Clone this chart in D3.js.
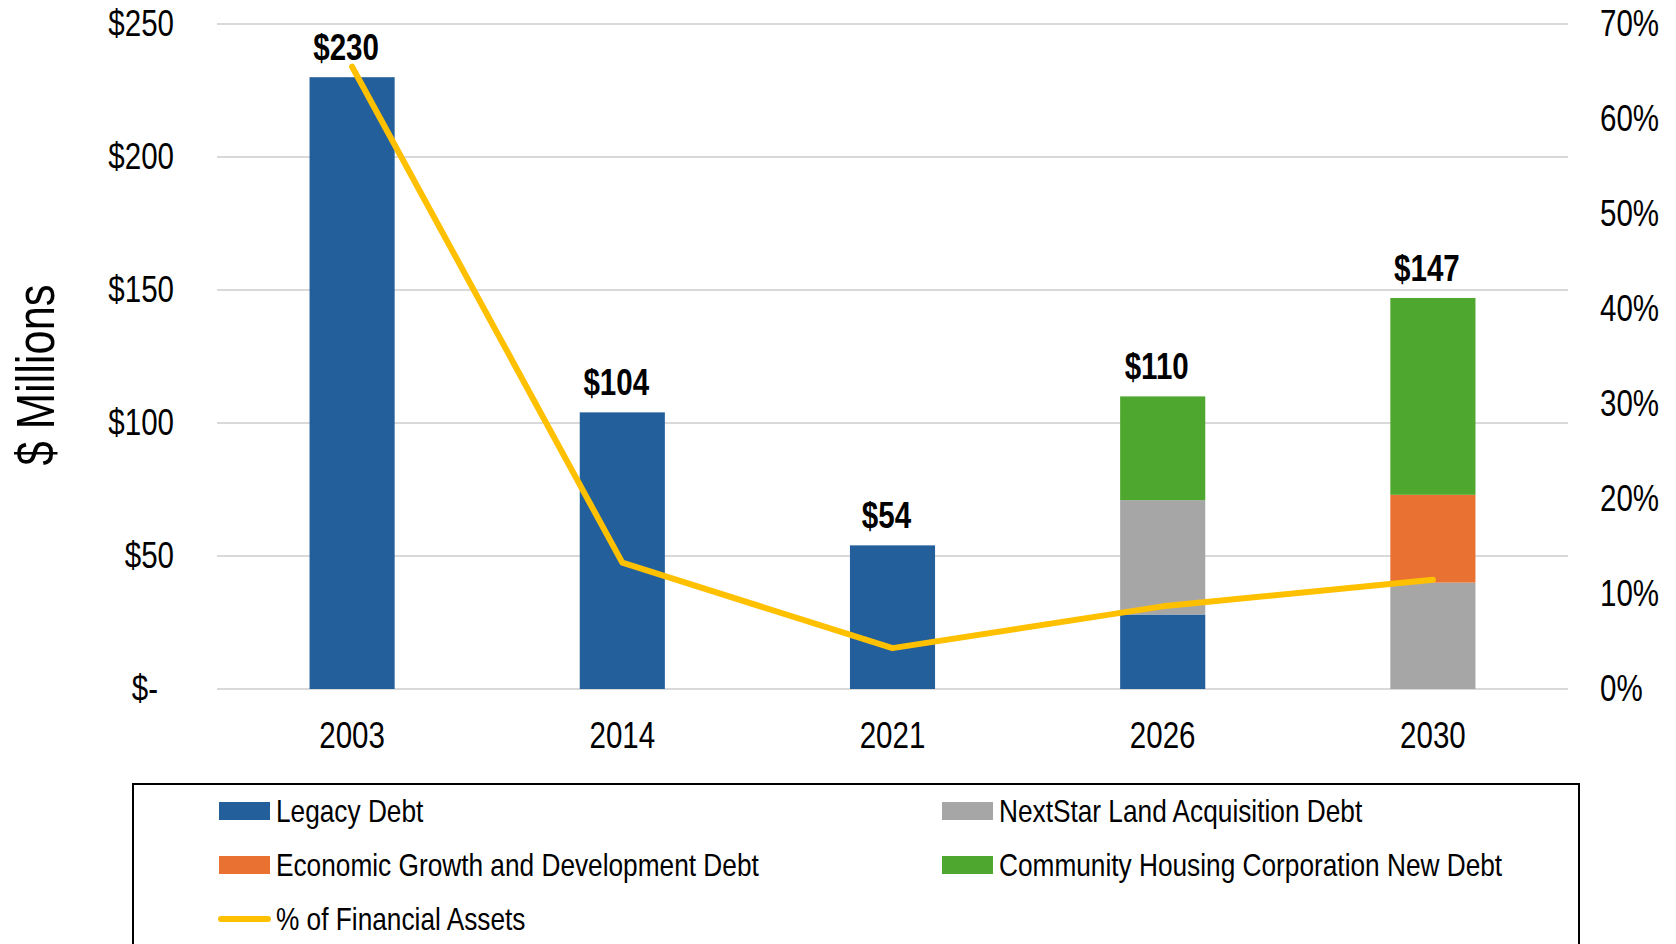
<!DOCTYPE html>
<html>
<head>
<meta charset="utf-8">
<script src="https://cdn.jsdelivr.net/npm/d3@7"></script>
<style>
    body { margin: 0; background: #fff; }
    svg text { font-family: "Liberation Sans", Arial, sans-serif; fill: #000; }
</style>
</head>
<body>
<div id="chart"></div>
<script>
//Datos del gráfico
const YEARS = ['2003', '2014', '2021', '2026', '2030'];
const LEGACY = [230, 104, 54, 28, 0];
const NEXTSTAR = [0, 0, 0, 43, 40];
const ECONOMIC = [0, 0, 0, 0, 33];
const COMMUNITY = [0, 0, 0, 39, 74];
const PCT_ASSETS = [65.5, 13.3, 4.3, 8.7, 11.5];
const LEFT_TICKS = [0, 50, 100, 150, 200, 250];
const RIGHT_TICKS = [0, 10, 20, 30, 40, 50, 60, 70];
const SERIES_NAMES = ['Legacy Debt', 'NextStar Land Acquisition Debt', 'Economic Growth and Development Debt', 'Community Housing Corporation New Debt'];
const LINE_NAME = '% of Financial Assets';

//Colores fijos
const COLOR_BLUE = '#235F9B',
COLOR_GREY = '#A6A6A6',
COLOR_ORANGE = '#E97132',
COLOR_GREEN = '#4EA72E',
COLOR_GOLD = '#FFC000',
COLOR_GRID = '#D9D9D9';

//Factor para imitar Arial Narrow (no hay fuente estrecha instalada)
const NARROW = 0.82;

let seriesKeys = ['legacy', 'nextstar', 'economic', 'community'];
let seriesColors = [COLOR_BLUE, COLOR_GREY, COLOR_ORANGE, COLOR_GREEN];

//Tabla para el stack
let data = YEARS.map(function(y, i) {
    return { year: y, legacy: LEGACY[i], nextstar: NEXTSTAR[i], economic: ECONOMIC[i], community: COMMUNITY[i], pct: PCT_ASSETS[i] };
});

function narrow(selection) {
    selection.each(function() {
        let len = this.getComputedTextLength();
        d3.select(this)
            .attr('textLength', len * NARROW)
            .attr('lengthAdjust', 'spacingAndGlyphs');
    });
}

let margin = {top: 24, right: 108, bottom: 255, left: 217},
    totalWidth = 1676, totalHeight = 944,
    width = totalWidth - margin.left - margin.right,
    height = totalHeight - margin.top - margin.bottom;

let svg = d3.select('#chart')
    .append('svg')
        .attr('width', totalWidth)
        .attr('height', totalHeight)
    .append('g')
        .attr('transform', 'translate(' + margin.left + ',' + margin.top + ')');

let x = d3.scaleBand()
    .domain(YEARS)
    .range([0, width])
    .paddingInner(0.685)
    .paddingOuter(0.3425);

let y = d3.scaleLinear()
    .domain([0, 250])
    .range([height, 0]);

let yR = d3.scaleLinear()
    .domain([0, 70])
    .range([height, 0]);

//Rejilla
svg.append('g')
    .attr('class', 'grid')
    .selectAll('line')
    .data(LEFT_TICKS)
    .enter()
    .append('line')
    .attr('x1', 0)
    .attr('x2', width)
    .attr('y1', function(d) { return y(d); })
    .attr('y2', function(d) { return y(d); })
    .attr('stroke', COLOR_GRID)
    .attr('stroke-width', 2);

//Eje izquierdo
let yAxis = svg.append('g')
    .attr('transform', 'translate(-40,0)')
    .call(d3.axisLeft(y).tickValues(LEFT_TICKS).tickSize(0).tickFormat(function(d) { return d == 0 ? '$-' : '$' + d; }));
yAxis.select('.domain').remove();
yAxis.selectAll('text')
    .style('font-size', '36px')
    .attr('dx', function(d) { return d == 0 ? -16 : 0; })
    .call(narrow);

//Eje derecho
let yRAxis = svg.append('g')
    .attr('transform', 'translate(' + (width + 29) + ',0)')
    .call(d3.axisRight(yR).tickValues(RIGHT_TICKS).tickSize(0).tickFormat(function(d) { return d + '%'; }));
yRAxis.select('.domain').remove();
yRAxis.selectAll('text').style('font-size', '36px').call(narrow);

//Eje X
let xAxis = svg.append('g')
    .attr('transform', 'translate(0,' + height + ')')
    .call(d3.axisBottom(x).tickSize(0).tickPadding(33));
xAxis.select('.domain').remove();
xAxis.selectAll('text').style('font-size', '36px').call(narrow);

//Título eje Y
svg.append('text')
    .attr('transform', 'translate(' + (35 - margin.left) + ',' + (375 - margin.top) + ') rotate(-90)')
    .attr('text-anchor', 'middle')
    .attr('dominant-baseline', 'central')
    .style('font-size', '53px')
    .text('$ Millions')
    .call(narrow);

//Barras apiladas
let stacked = d3.stack().keys(seriesKeys)(data);

svg.append('g')
    .selectAll('g')
    .data(stacked)
    .enter()
    .append('g')
    .attr('fill', function(d, i) { return seriesColors[i]; })
    .selectAll('rect')
    .data(function(d) { return d; })
    .enter()
    .append('rect')
    .attr('x', function(d) { return x(d.data.year); })
    .attr('y', function(d) { return y(d[1]); })
    .attr('width', x.bandwidth())
    .attr('height', function(d) { return y(d[0]) - y(d[1]); });

//Línea de % de activos
let line = d3.line()
    .x(function(d) { return x(d.year) + x.bandwidth() / 2; })
    .y(function(d) { return yR(d.pct); });

svg.append('path')
    .datum(data)
    .attr('d', line)
    .attr('fill', 'none')
    .attr('stroke', COLOR_GOLD)
    .attr('stroke-width', 6)
    .attr('stroke-linecap', 'round')
    .attr('stroke-linejoin', 'round');

//Etiquetas de totales
svg.append('g')
    .selectAll('text')
    .data(data)
    .enter()
    .append('text')
    .attr('x', function(d) { return x(d.year) + x.bandwidth() / 2 - 6; })
    .attr('y', function(d) { return y(d.legacy + d.nextstar + d.economic + d.community) - 17; })
    .attr('text-anchor', 'middle')
    .style('font-size', '36px')
    .style('font-weight', 'bold')
    .text(function(d) { return '$' + (d.legacy + d.nextstar + d.economic + d.community); })
    .call(narrow);

//Leyenda
let legend = svg.append('g')
    .attr('transform', 'translate(' + (-margin.left) + ',' + (-margin.top) + ')');

legend.append('rect')
    .attr('x', 133)
    .attr('y', 784)
    .attr('width', 1446)
    .attr('height', 200)
    .attr('fill', 'none')
    .attr('stroke', '#000')
    .attr('stroke-width', 2);

let legendItems = SERIES_NAMES.map(function(name, i) { return { name: name, color: seriesColors[i], type: 'rect' }; });
legendItems.push({ name: LINE_NAME, color: COLOR_GOLD, type: 'line' });

let legendG = legend.selectAll('.legend-item')
    .data(legendItems)
    .enter()
    .append('g')
    .attr('class', 'legend-item')
    .attr('transform', function(d, i) { return 'translate(' + (i % 2 == 0 ? 219 : 942) + ',' + (811 + Math.floor(i / 2) * 54) + ')'; });

legendG.filter(function(d) { return d.type == 'rect'; })
    .append('rect')
    .attr('x', 0)
    .attr('y', -9)
    .attr('width', 51)
    .attr('height', 18)
    .attr('fill', function(d) { return d.color; });

legendG.filter(function(d) { return d.type == 'line'; })
    .append('line')
    .attr('x1', 2)
    .attr('x2', 49)
    .attr('y1', 0)
    .attr('y2', 0)
    .attr('stroke', function(d) { return d.color; })
    .attr('stroke-width', 6)
    .attr('stroke-linecap', 'round');

legendG.append('text')
    .attr('x', 57)
    .attr('y', 0)
    .attr('dominant-baseline', 'central')
    .style('font-size', '32px')
    .text(function(d) { return d.name; })
    .call(narrow);
</script>
</body>
</html>
